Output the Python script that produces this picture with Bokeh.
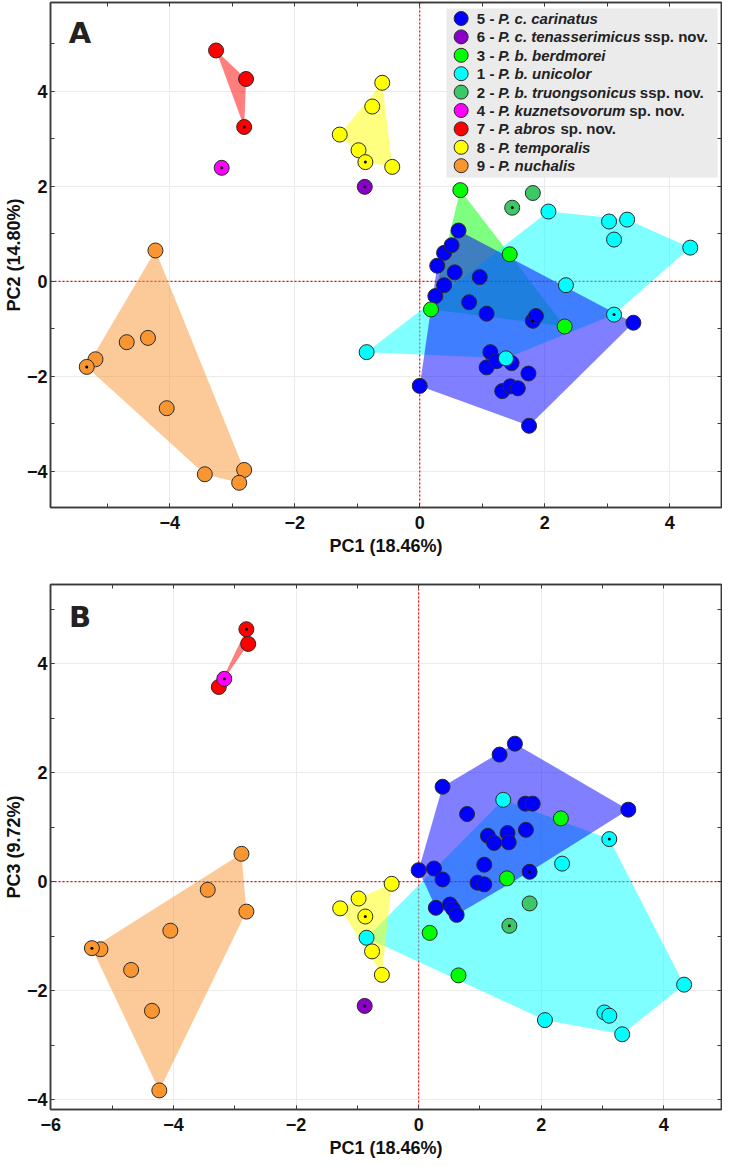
import numpy as np
from bokeh.plotting import figure
from bokeh.models import Range1d, LinearAxis, SingleIntervalTicker, FixedTicker, Span
from bokeh.layouts import column
from bokeh.core.properties import value
from bokeh.embed import file_html
from bokeh.resources import INLINE

# ---------------- data ----------------
species_num = ["5", "6", "3", "1", "2", "4", "7", "8", "9"]
species_name = ["P. c. carinatus", "P. c. tenasserimicus", "P. b. berdmorei", "P. b. unicolor",
                "P. b. truongsonicus", "P. kuznetsovorum", "P. abros", "P. temporalis", "P. nuchalis"]
species_suffix = ["", "ssp. nov.", "", "", "ssp. nov.", "sp. nov.", "sp. nov.", "", ""]
species_color = ["#0000ff", "#8a00c8", "#00ff00", "#00ffff", "#3cc864",
                 "#ff00ff", "#ff0000", "#ffff00", "#fa9632"]

carinatus_pc1 = [0.00, 0.25, 0.28, 0.39, 0.39, 0.51, 0.56, 0.62, 0.79, 0.96, 1.07, 1.07,
                 1.13, 1.23, 1.32, 1.45, 1.47, 1.57, 1.74, 1.75, 1.81, 1.86, 3.42]
carinatus_pc2 = [-2.20, -0.31, 0.33, 0.60, -0.08, 0.76, 0.19, 1.07, -0.44, 0.09, -0.68, -1.81,
                 -1.49, -1.68, -2.31, -2.21, -1.72, -2.25, -1.94, -3.04, -0.83, -0.73, -0.87]
carinatus_pc3 = [0.21, 0.24, -0.48, 1.74, 0.04, -0.42, -0.50, -0.61, 1.24, -0.02, 0.31, -0.05,
                 0.84, 0.71, 2.33, 0.89, 0.72, 2.53, 1.43, 0.95, 0.18, 1.43, 1.32]
carinatus_type = 20

tenasserimicus_pc1 = [-0.88]
tenasserimicus_pc2 = [1.99]
tenasserimicus_pc3 = [-2.28]
tenasserimicus_type = 0

berdmorei_pc1 = [0.18, 0.65, 1.44, 2.32]
berdmorei_pc2 = [-0.59, 1.92, 0.57, -0.95]
berdmorei_pc3 = [-0.94, -1.72, 0.06, 1.16]
berdmorei_type = None

unicolor_pc1 = [-0.85, 1.38, 2.06, 2.34, 3.03, 3.11, 3.11, 3.32, 4.33]
unicolor_pc2 = [-1.49, -1.62, 1.47, -0.08, 1.26, -0.70, 0.88, 1.30, 0.71]
unicolor_pc3 = [-1.03, 1.50, -2.54, 0.33, -2.40, 0.78, -2.46, -2.80, -1.89]
unicolor_type = 5

truongsonicus_pc1 = [1.81, 1.48]
truongsonicus_pc2 = [1.86, 1.55]
truongsonicus_pc3 = [-0.40, -0.81]
truongsonicus_type = 1

kuznetsovorum_pc1 = [-3.17]
kuznetsovorum_pc2 = [2.39]
kuznetsovorum_pc3 = [3.72]
kuznetsovorum_type = 0

abros_pc1 = [-3.26, -2.78, -2.81]
abros_pc2 = [4.86, 4.26, 3.25]
abros_pc3 = [3.57, 4.36, 4.63]
abros_type = 2

temporalis_pc1 = [-0.60, -0.76, -1.28, -0.98, -0.87, -0.44]
temporalis_pc2 = [4.18, 3.68, 3.09, 2.76, 2.51, 2.41]
temporalis_pc3 = [-1.71, -1.28, -0.49, -0.31, -0.64, -0.04]
temporalis_type = 4

nuchalis_pc1 = [-4.23, -5.19, -5.33, -4.69, -4.35, -4.05, -3.44, -2.81, -2.89]
nuchalis_pc2 = [0.65, -1.64, -1.80, -1.28, -1.19, -2.67, -4.06, -3.97, -4.24]
nuchalis_pc3 = [-3.83, -1.24, -1.22, -1.62, -2.37, -0.90, -0.15, -0.55, 0.51]
nuchalis_type = 2

groups = {
    "carinatus": (carinatus_pc1, carinatus_pc2, carinatus_pc3, carinatus_type, 0),
    "tenasserimicus": (tenasserimicus_pc1, tenasserimicus_pc2, tenasserimicus_pc3, tenasserimicus_type, 1),
    "berdmorei": (berdmorei_pc1, berdmorei_pc2, berdmorei_pc3, berdmorei_type, 2),
    "unicolor": (unicolor_pc1, unicolor_pc2, unicolor_pc3, unicolor_type, 3),
    "truongsonicus": (truongsonicus_pc1, truongsonicus_pc2, truongsonicus_pc3, truongsonicus_type, 4),
    "kuznetsovorum": (kuznetsovorum_pc1, kuznetsovorum_pc2, kuznetsovorum_pc3, kuznetsovorum_type, 5),
    "abros": (abros_pc1, abros_pc2, abros_pc3, abros_type, 6),
    "temporalis": (temporalis_pc1, temporalis_pc2, temporalis_pc3, temporalis_type, 7),
    "nuchalis": (nuchalis_pc1, nuchalis_pc2, nuchalis_pc3, nuchalis_type, 8),
}
point_order = ["carinatus", "tenasserimicus", "berdmorei", "unicolor", "truongsonicus",
               "abros", "kuznetsovorum", "temporalis", "nuchalis"]
hulls_A = ["berdmorei", "unicolor", "carinatus", "temporalis", "abros", "nuchalis"]
hulls_B = ["unicolor", "carinatus", "temporalis", "abros", "nuchalis"]

# Helvetica/Arial bold advance widths (per 1000 em) for legend layout
W = {' ': 278, '-': 333, '.': 278, 'P': 667, 'a': 556, 'b': 611, 'c': 556, 'd': 611, 'e': 556,
     'f': 333, 'g': 611, 'h': 611, 'i': 278, 'j': 278, 'k': 556, 'l': 278, 'm': 889, 'n': 611,
     'o': 611, 'p': 611, 'q': 611, 'r': 389, 's': 556, 't': 333, 'u': 611, 'v': 556, 'w': 778,
     'x': 556, 'y': 556, 'z': 500}


def text_w(s, size):
    return sum(W.get(ch, 556) for ch in s) * size / 1000.0


def convex_hull(xs, ys):
    pts = sorted(set(zip(xs, ys)))
    if len(pts) < 3:
        return [p[0] for p in pts], [p[1] for p in pts]

    def cross(o, a, b):
        return (a[0] - o[0]) * (b[1] - o[1]) - (a[1] - o[1]) * (b[0] - o[0])
    lower, upper = [], []
    for p in pts:
        while len(lower) >= 2 and cross(lower[-2], lower[-1], p) <= 0:
            lower.pop()
        lower.append(p)
    for p in reversed(pts):
        while len(upper) >= 2 and cross(upper[-2], upper[-1], p) <= 0:
            upper.pop()
        upper.append(p)
    h = lower[:-1] + upper[:-1]
    return [p[0] for p in h], [p[1] for p in h]


FONT = value("Liberation Sans")
FIG_W = 722
B_LEFT, B_RIGHT, B_BOTTOM = 38, 1, 52
AXC = "#3a3a3a"


def make_panel(ycol, xr, yr, ylabel, letter, hull_list, legend, height, btop, letter_pos):
    fw = FIG_W - B_LEFT - B_RIGHT
    fh = height - btop - B_BOTTOM
    p = figure(width=FIG_W, height=height, x_range=Range1d(*xr), y_range=Range1d(*yr),
               output_backend="svg", toolbar_location=None,
               min_border_left=B_LEFT, min_border_right=B_RIGHT,
               min_border_top=btop, min_border_bottom=B_BOTTOM)
    p.background_fill_color = "white"
    p.outline_line_color = AXC
    p.outline_line_width = 1.5

    def px2x(px):
        return xr[0] + px / fw * (xr[1] - xr[0])

    def py2y(py):
        return yr[1] - py / fh * (yr[1] - yr[0])

    # axes
    p.xaxis.axis_label = "PC1 (18.46%)"
    p.yaxis.axis_label = ylabel
    for ax in [p.xaxis[0], p.yaxis[0]]:
        ax.ticker = SingleIntervalTicker(interval=2, num_minor_ticks=2)
        ax.axis_label_text_font = "Liberation Sans"
        ax.axis_label_text_font_style = "bold"
        ax.axis_label_text_font_size = "18px"
        ax.axis_label_text_color = "#111111"
        ax.major_label_text_font = "Liberation Sans"
        ax.major_label_text_font_style = "bold"
        ax.major_label_text_font_size = "18px"
        ax.major_label_text_color = "#111111"
        ax.major_tick_in = 4
        ax.major_tick_out = 0
        ax.minor_tick_in = 4
        ax.minor_tick_out = 0
        ax.major_label_standoff = 3
        ax.axis_label_standoff = 0
        ax.axis_line_color = AXC
        ax.axis_line_width = 1.5
        ax.major_tick_line_color = AXC
        ax.minor_tick_line_color = AXC
    p.xaxis.major_label_standoff = 8
    p.xaxis.axis_label_standoff = 4

    # tick marks on the top and right edges (minor-only tickers -> no labels)
    top_ticks = list(range(int(np.floor(xr[0])), int(np.ceil(xr[1])) + 1))
    right_ticks = list(range(int(np.floor(yr[0])), int(np.ceil(yr[1])) + 1))
    for loc, tl in [("above", top_ticks), ("right", right_ticks)]:
        ax = LinearAxis(ticker=FixedTicker(ticks=[], minor_ticks=tl))
        ax.major_label_standoff = 0
        ax.axis_label_standoff = 0
        ax.minor_tick_in = 4
        ax.minor_tick_out = 0
        ax.major_tick_in = 0
        ax.major_tick_out = 0
        ax.axis_line_color = AXC
        ax.axis_line_width = 1.5
        ax.minor_tick_line_color = AXC
        p.add_layout(ax, loc)

    p.xgrid.grid_line_color = "#ebebeb"
    p.ygrid.grid_line_color = "#ebebeb"
    p.xgrid.ticker = SingleIntervalTicker(interval=2)
    p.ygrid.ticker = SingleIntervalTicker(interval=2)

    # zero lines
    p.add_layout(Span(location=0, dimension="height", line_color="#ff0000", line_width=1.2,
                      line_dash="2 2", level="underlay"))
    p.add_layout(Span(location=0, dimension="width", line_color="#ff0000", line_width=1.2,
                      line_dash="2 2", level="underlay"))

    # hulls
    for g in hull_list:
        pc1, pc2, pc3, t, ci = groups[g]
        yv = pc2 if ycol == 2 else pc3
        hx, hy = convex_hull(pc1, yv)
        p.patch(hx, hy, fill_color=species_color[ci], fill_alpha=0.5, line_color=None)

    # points
    tx, ty = [], []
    for g in point_order:
        pc1, pc2, pc3, t, ci = groups[g]
        yv = pc2 if ycol == 2 else pc3
        p.scatter(pc1, yv, size=15, fill_color=species_color[ci], line_color="#2a2a2a",
                  line_width=1)
        if t is not None:
            tx.append(pc1[t])
            ty.append(yv[t])
    p.scatter(tx, ty, size=3, fill_color="black", line_color=None)

    # panel letter
    p.text(x=[px2x(letter_pos[0])], y=[py2y(letter_pos[1])], text=[letter],
           text_font=value("DejaVu Sans"), text_font_style="bold", text_font_size="29px",
           text_color="#222222", text_align="center", text_baseline="middle")

    if legend:
        size = 15
        bl, br, bt, bb = fw - 280, fw - 4, 6, 175
        p.quad(left=[px2x(bl)], right=[px2x(br)], top=[py2y(bt)], bottom=[py2y(bb)],
               fill_color="#ebebeb", line_color=None)
        cx, cy, cc = [], [], []
        n_x, n_y, n_t = [], [], []
        i_x, i_y, i_t = [], [], []
        s_x, s_y, s_t = [], [], []
        for k in range(len(species_num)):
            yy = py2y(16 + 18.4 * k)
            cx.append(px2x(bl + 15))
            cy.append(yy)
            cc.append(species_color[k])
            x0 = bl + 31
            pre = species_num[k] + " -"
            n_x.append(px2x(x0)); n_y.append(yy); n_t.append(pre)
            x1 = x0 + text_w(pre + " ", size)
            i_x.append(px2x(x1)); i_y.append(yy); i_t.append(species_name[k])
            if species_suffix[k]:
                x2 = x1 + text_w(species_name[k] + " ", size)
                s_x.append(px2x(x2)); s_y.append(yy); s_t.append(species_suffix[k])
        p.scatter(cx, cy, size=14, fill_color=cc, line_color="#2a2a2a", line_width=1)
        common = dict(text_font=FONT, text_font_size=f"{size}px", text_color="#222222",
                      text_align="left", text_baseline="middle")
        p.text(x=n_x, y=n_y, text=n_t, text_font_style="bold", **common)
        p.text(x=i_x, y=i_y, text=i_t, text_font_style="bold italic", **common)
        p.text(x=s_x, y=s_y, text=s_t, text_font_style="bold", **common)
    return p


pA = make_panel(2, (-5.91, 4.83), (-4.76, 5.87), "PC2 (14.80%)", "A", hulls_A, True,
                height=559, btop=2, letter_pos=(30, 30))
pB = make_panel(3, (-6.005, 4.94), (-4.18, 5.45), "PC3 (9.72%)", "B", hulls_B, False,
                height=602, btop=25, letter_pos=(30, 32))

layout = column(pA, pB, spacing=0)
open("out.html", "w").write(file_html(layout, INLINE))
